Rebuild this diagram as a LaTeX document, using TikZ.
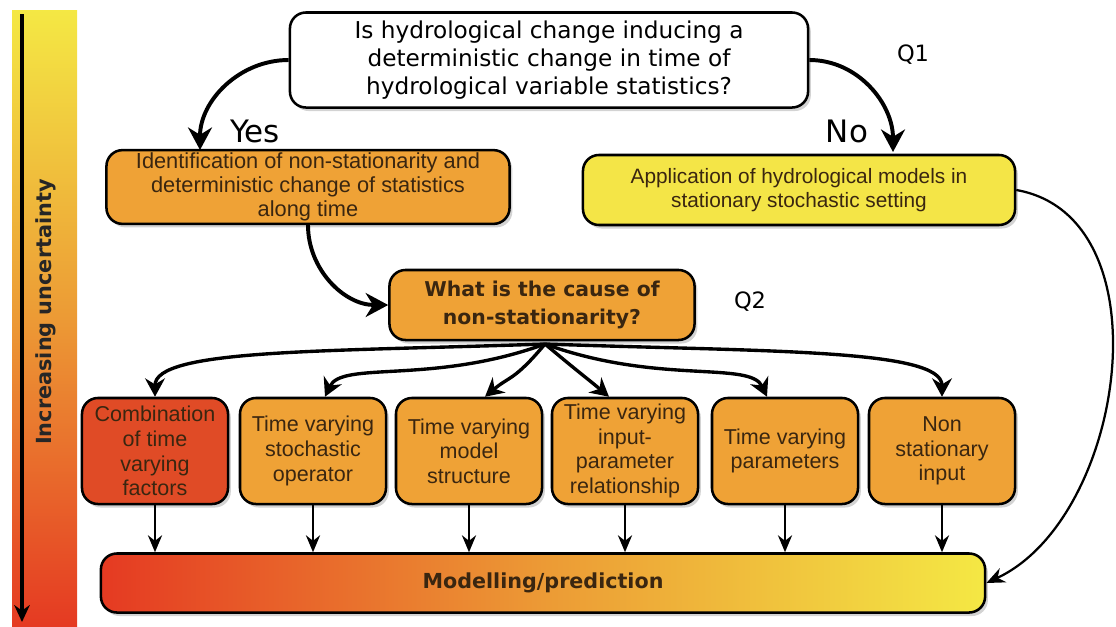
\documentclass[tikz,border=0pt]{standalone}
\usepackage{fontspec}
\setmainfont{DejaVu Sans}
\newfontfamily\boxfont{Liberation Sans}
\usetikzlibrary{arrows.meta,shadows}
\definecolor{boxorange}{HTML}{EFA236}
\definecolor{boxyellow}{HTML}{F4E547}
\definecolor{boxred}{HTML}{E04B26}
\definecolor{barred}{HTML}{E53A22}
\definecolor{barorange}{HTML}{EC9A35}
\definecolor{baryellow}{HTML}{F4E844}
\definecolor{boxtext}{HTML}{3A2610}

\begin{document}
\begin{tikzpicture}[x=0.025cm,y=-0.025cm]
\tikzstyle{box}=[draw,line width=1.8pt,rounded corners=0.4cm,align=center,inner sep=2pt,
  drop shadow={shadow xshift=2pt,shadow yshift=-2.5pt,opacity=0.35}];
\tikzstyle{widebox}=[box,minimum height=1.75cm,text=boxtext];
\tikzstyle{causebox}=[box,fill=boxorange,minimum width=3.65cm,minimum height=2.65cm,text=boxtext,
  font=\boxfont\fontsize{15.3}{17.5}\selectfont];
\tikzstyle{lbl}=[inner sep=0pt,font=\fontsize{16}{18}\selectfont];
\tikzstyle{yesno}=[inner sep=0pt,font=\fontsize{22}{24}\selectfont];
\tikzstyle{bigarrow}=[line width=2.8pt,-{Stealth[length=16pt,width=17pt]}];
\tikzstyle{fanarrow}=[line width=2.4pt,-{Stealth[length=13pt,width=14pt]}];
\tikzstyle{downarrow}=[line width=1.8pt,-{Stealth[length=12pt,width=10pt]}];
\useasboundingbox (0,0) rectangle (1116,626);

% uncertainty bar
\shade[top color=baryellow,bottom color=barred,middle color=barorange] (12,10) rectangle (77,626);
\coordinate (bartop) at (22,14);
\coordinate (barbot) at (22,622);
\draw[line width=2.2pt,-{Stealth[length=12pt,width=11pt]}] (bartop) -- (barbot);
\node[rotate=90,font=\bfseries\fontsize{14.8}{16}\selectfont,text=black!85] (unc) at (46,312) {Increasing uncertainty};

% question 1
\node[box,fill=white,minimum width=12.95cm,minimum height=2.375cm,font=\fontsize{16.5}{20}\selectfont] (q1) at (549,60)
  {Is hydrological change inducing a\\deterministic change in time of\\hydrological variable statistics?};
\node[lbl] (q1lbl) at (913,55) {Q1};
\node[yesno] (yes) at (255,131) {Yes};
\node[yesno] (no) at (847,131) {No};

\node[widebox,fill=boxorange,minimum width=10.075cm,font=\boxfont\fontsize{15.5}{17}\selectfont] (ident) at (308,187)
  {Identification of non-stationarity and\\deterministic change of statistics\\along time};
\node[widebox,fill=boxyellow,minimum width=10.8cm,font=\boxfont\fontsize{14.8}{17.5}\selectfont] (appl) at (799,190)
  {Application of hydrological models in\\stationary stochastic setting};

\draw[bigarrow] (q1.west) to[out=180,in=90] (200,150);
\draw[bigarrow] (q1.east) to[out=0,in=90] (893,152);

% question 2
\node[box,fill=boxorange,minimum width=7.625cm,minimum height=1.75cm,text=boxtext,
  font=\bfseries\fontsize{14.5}{20}\selectfont] (q2) at (542,305) {What is the cause of\\non-stationarity?};
\node[lbl] (q2lbl) at (750,302) {Q2};
\draw[bigarrow] (ident.south) to[out=-90,in=180] (q2.west);

% causes
\node[causebox,fill=boxred] (c1) at (155,451) {Combination\\of time\\varying\\factors};
\node[causebox] (c2) at (313,451) {Time varying\\stochastic\\operator};
\node[causebox] (c3) at (469,451) {Time varying\\model\\structure};
\node[causebox] (c4) at (625,451) {Time varying\\input-\\parameter\\relationship};
\node[causebox] (c5) at (785,451) {Time varying\\parameters};
\node[causebox] (c6) at (942,451) {Non\\stationary\\input};

\coordinate (fan) at (545,344);
\draw[fanarrow] (fan) to[out=182,in=90,out distance=5.5cm,in distance=1.2cm] (c1.north);
\draw[fanarrow] (fan) to[out=200,in=65,out distance=3cm,in distance=1cm] ([xshift=0.3cm]c2.north);
\draw[fanarrow] (fan) to[out=230,in=40,out distance=1.2cm,in distance=0.8cm] ([xshift=0.4cm]c3.north);
\draw[fanarrow] (fan) to[out=-40,in=140,out distance=1.2cm,in distance=0.8cm] ([xshift=-0.4cm]c4.north);
\draw[fanarrow] (fan) to[out=-20,in=115,out distance=3cm,in distance=1cm] ([xshift=-0.45cm]c5.north);
\draw[fanarrow] (fan) to[out=-2,in=90,out distance=5.5cm,in distance=1.2cm] (c6.north);

% modelling
\node[box,left color=barred,right color=baryellow,middle color=barorange,minimum width=22.1cm,
  minimum height=1.475cm,text=boxtext,font=\bfseries\fontsize{14.7}{16}\selectfont] (model) at (543,583) {Modelling/prediction};

\foreach \c in {c1,c2,c3,c4,c5,c6}
  \draw[downarrow] (\c.south) -- (\c.south |- model.north);
\draw[line width=1.6pt,-{Stealth[length=13pt,width=11pt]}] (appl.east) to[out=-10,in=25,looseness=1] (model.east);
\end{tikzpicture}
\end{document}
